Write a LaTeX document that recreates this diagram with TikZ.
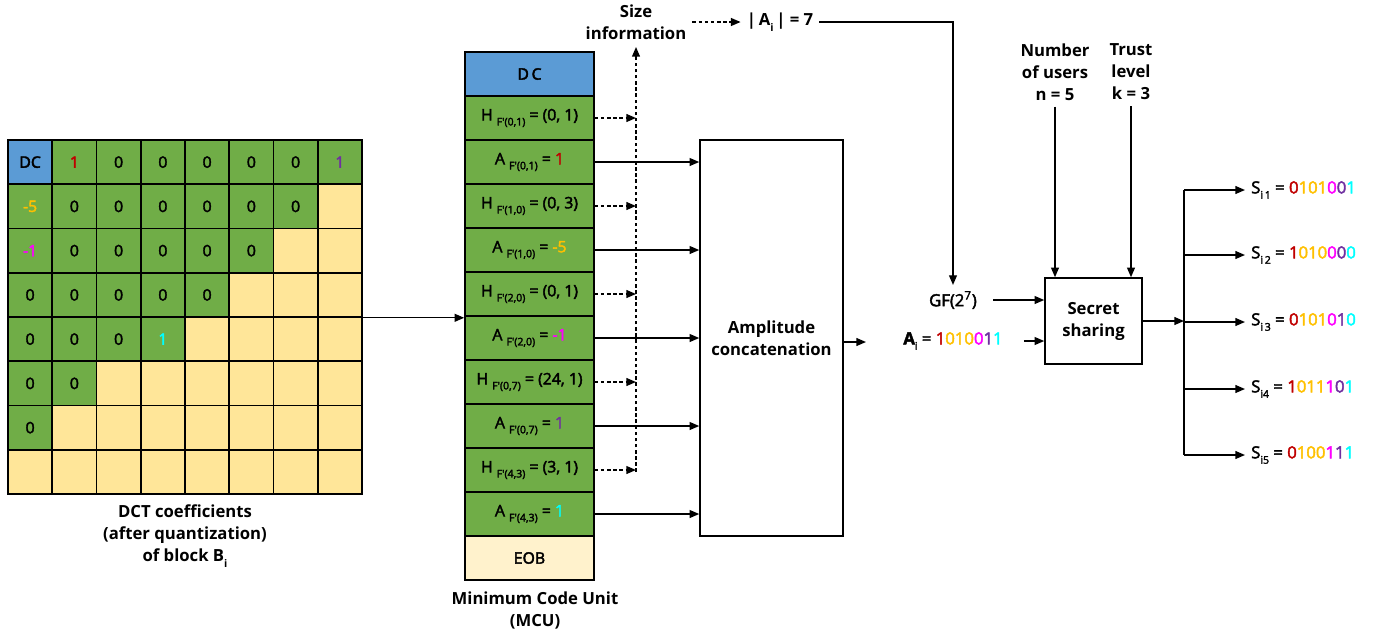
\documentclass[tikz,border=0pt]{standalone}
\usepackage{fontspec}
\setmainfont{Open Sans}
\newfontfamily\medfont{Open Sans}[FakeBold=2.5]
\usetikzlibrary{arrows.meta}

\definecolor{dcblue}{HTML}{5B9BD5}
\definecolor{acgreen}{HTML}{70AD47}
\definecolor{zeroyel}{HTML}{FFE699}
\definecolor{eobcream}{HTML}{FFF2CC}
\definecolor{bitred}{HTML}{C00000}
\definecolor{bitorange}{HTML}{FFC000}
\definecolor{bitpink}{HTML}{FF00FF}
\definecolor{bitpurple}{HTML}{7030A0}
\definecolor{bitcyan}{HTML}{00FFFF}

\newcommand\lowsub[1]{\raisebox{-0.6ex}{\fontsize{6}{6}\selectfont#1}}
\newcommand\bitstr[5]{{\color{bitred}#1}{\color{bitorange}#2}{\color{bitpink}#3}{\color{bitpurple}#4}{\color{bitcyan}#5}}

\begin{document}
\begin{tikzpicture}[x=0.02cm,y=-0.02cm,
  every node/.style={font=\medfont\fontsize{9}{10}\selectfont},
  cell/.style={draw=black,line width=0.9pt,minimum width=0.885cm,minimum height=0.885cm,inner sep=0pt,fill=zeroyel},
  mcurow/.style={draw=black,line width=0.9pt,minimum width=2.58cm,minimum height=0.88cm,inner sep=0pt,fill=acgreen},
  bigbox/.style={draw=black,line width=0.9pt,inner sep=0pt},
  title/.style={font=\fontsize{9.5}{12.5}\selectfont\bfseries,align=center},
  sharelbl/.style={anchor=west,font=\medfont\fontsize{9.5}{12}\selectfont},
  arr/.style={-{Triangle[length=5.5pt,width=4.5pt]},line width=0.8pt},
  darr/.style={arr,dash pattern=on 2pt off 1.5pt}]
	%%%%% START %%%%%
	\useasboundingbox (0,0) rectangle (1380,637);
	
	% quantized DCT block
	\foreach \r/\n in {0/8,1/7,2/6,3/5,4/4,5/2,6/1,7/0}{
		\foreach \c in {0,...,7}{
			\pgfmathtruncatemacro\isodd{(\r==0 && (\c<2 || \c==7)) || (\c==0 && (\r==1 || \r==2)) || (\r==4 && \c==3)}
			\ifnum\c<\n
				\node[cell,fill=acgreen] (m-\r-\c) at ({30.125+44.25*\c},{162.125+44.25*\r}) {\ifnum\isodd=0 0\fi};
			\else
				\node[cell] (m-\r-\c) at ({30.125+44.25*\c},{162.125+44.25*\r}) {};
			\fi
		}
	}
	\node[cell,fill=dcblue] (mdc) at (m-0-0) {DC};
	\node[cell,fill=acgreen] (v01) at (m-0-1) {\color{bitred}1};
	\node[cell,fill=acgreen] (v07) at (m-0-7) {\color{bitpurple}1};
	\node[cell,fill=acgreen] (v10) at (m-1-0) {\color{bitorange}-5};
	\node[cell,fill=acgreen] (v20) at (m-2-0) {\color{bitpink}-1};
	\node[cell,fill=acgreen] (v43) at (m-4-3) {\color{bitcyan}1};
	
	\node[title] (dcttitle) at (185,536) {DCT coefficients\\(after quantization)\\of block B\lowsub{i}};
	
	% minimum code unit
	\node[mcurow,fill=dcblue] (mcu-dc) at (529.5,74) {D\,C};
	\node[mcurow] (h1) at (529.5,118) {H \lowsub{F'(0,1)} = (0, 1)};
	\node[mcurow] (a1) at (529.5,162) {A \lowsub{F'(0,1)} = {\color{bitred}1}};
	\node[mcurow] (h2) at (529.5,206) {H \lowsub{F'(1,0)} = (0, 3)};
	\node[mcurow] (a2) at (529.5,250) {A \lowsub{F'(1,0)} = {\color{bitorange}-5}};
	\node[mcurow] (h3) at (529.5,294) {H \lowsub{F'(2,0)} = (0, 1)};
	\node[mcurow] (a3) at (529.5,338) {A \lowsub{F'(2,0)} = {\color{bitpink}-1}};
	\node[mcurow] (h4) at (529.5,382) {H \lowsub{F'(0,7)} = (24, 1)};
	\node[mcurow] (a4) at (529.5,426) {A \lowsub{F'(0,7)} = {\color{bitpurple}1}};
	\node[mcurow] (h5) at (529.5,470) {H \lowsub{F'(4,3)} = (3, 1)};
	\node[mcurow] (a5) at (529.5,514) {A \lowsub{F'(4,3)} = {\color{bitcyan}1}};
	\node[mcurow,fill=eobcream] (eob) at (529.5,558) {EOB};
	
	\node[title] (mcutitle) at (535,610) {Minimum Code Unit\\(MCU)};
	
	\draw[arr] (m-3-7.south east) -- (m-3-7.south east -| mcu-dc.west);
	
	% size branch
	\coordinate (sztip) at (636,47);
	\coordinate (szbot) at (636,472);
	\draw[darr] (szbot) -- (sztip);
	\foreach \h in {h1,h2,h3,h4,h5}
		\draw[darr] (\h.east) -- (\h.east -| sztip);
	
	\node[title] (sizeinfo) at (636,22) {Size\\information};
	\node[font=\fontsize{9.5}{12}\selectfont\bfseries] (asize) at (780,22) {|\,A\lowsub{i}\,| = 7};
	\draw[darr] (sizeinfo.east) -- (asize.west);
	
	% amplitudes
	\node[bigbox,minimum width=2.86cm,minimum height=7.92cm,title] (amp) at (771.5,338) {Amplitude\\concatenation};
	\foreach \a in {a1,a2,a3,a4,a5}
		\draw[arr] (\a.east) -- (\a.east -| amp.west);
	\coordinate (ampout) at (866,342);
	\draw[arr] (amp.east |- ampout) -- (ampout);
	
	\node[font=\medfont\fontsize{9.5}{12}\selectfont] (gf) at (953,300) {GF(2\textsuperscript{7})};
	\node[font=\medfont\fontsize{9.5}{12}\selectfont] (ai) at (953,341) {{\bfseries A}\lowsub{i} = \bitstr{1}{010}{0}{1}{1}};
	\draw[arr] (asize.east) -| (gf.north);
	
	% secret sharing
	\node[bigbox,minimum width=1.94cm,minimum height=1.72cm,title] (ss) at (1093.5,321) {Secret\\sharing};
	\node[title] (nusers) at (1055,72) {Number\\of users\\n = 5};
	\node[title] (trust) at (1131,72) {Trust\\level\\k = 3};
	\draw[arr] (nusers.south) -- (nusers.south |- ss.north);
	\draw[arr] (trust.south) -- (trust.south |- ss.north);
	\draw[arr,shorten <=0.2cm] (gf.east) -- (gf.east -| ss.west);
	\draw[arr,shorten <=0.3cm] (ai.east) -- (ai.east -| ss.west);
	
	% shares
	\coordinate (busmid) at (1184,321);
	\coordinate (bustop) at (1184,190);
	\coordinate (busbot) at (1184,455);
	\draw[arr] (ss.east) -- (busmid);
	\draw[line width=0.8pt] (bustop) -- (busbot);
	
	\node[sharelbl] (s1) at (1245,190) {S\lowsub{i\,1} = \bitstr{0}{101}{0}{0}{1}};
	\node[sharelbl] (s2) at (1245,255) {S\lowsub{i\,2} = \bitstr{1}{010}{0}{0}{0}};
	\node[sharelbl] (s3) at (1245,322) {S\lowsub{i\,3} = \bitstr{0}{101}{0}{1}{0}};
	\node[sharelbl] (s4) at (1245,389) {S\lowsub{i4} = \bitstr{1}{011}{1}{0}{1}};
	\node[sharelbl] (s5) at (1245,455) {S\lowsub{i5} = \bitstr{0}{100}{1}{1}{1}};
	\foreach \s in {s1,s2,s3,s4,s5}
		\draw[arr] (\s.west -| bustop) -- (\s.west);
	
	%%%%% END %%%%%
\end{tikzpicture}
\end{document}
